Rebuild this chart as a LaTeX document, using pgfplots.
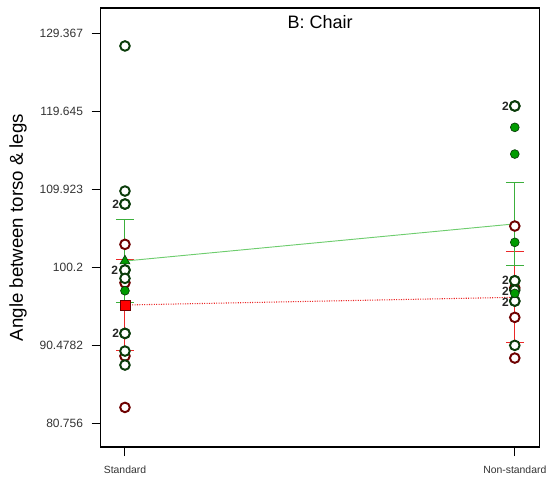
\documentclass[border=0pt]{standalone}
\usepackage{pgfplots}
\pgfplotsset{compat=1.18}
\usepackage{fontspec}
\setmainfont{Liberation Sans}

\definecolor{circG}{RGB}{10,60,10}
\definecolor{circR}{RGB}{110,0,0}
\definecolor{dotG}{RGB}{0,155,0}
\definecolor{barG}{RGB}{60,175,60}
\definecolor{lineG}{RGB}{110,205,110}
\definecolor{barR}{RGB}{235,40,40}

\begin{document}
\begin{tikzpicture}
\path[use as bounding box] (-75.5pt,-26.25pt) rectangle (339.2pt,335.25pt);
\begin{axis}[
  at={(0,0)}, anchor=south west,
  scale only axis,
  width=329.25pt, height=329.25pt,
  xmin=-0.0623, xmax=1.064,
  ymin=77.77, ymax=132.48,
  axis line style={line width=0.9pt},
  tick align=outside,
  xtick pos=bottom, ytick pos=left,
  major tick length=6.75pt,
  tick style={black, line width=0.7pt},
  xtick={0,1}, xticklabels={Standard,Non-standard},
  ytick={80.756,90.4782,100.2,109.923,119.645,129.367},
  yticklabels={80.756,90.4782,100.2,109.923,119.645,129.367},
  yticklabel style={font=\fontsize{9}{10}\selectfont, text=black!80, xshift=-3pt},
  xticklabel style={font=\fontsize{7.8}{9}\selectfont, text=black!80, yshift=-4pt},
  ylabel={Angle between torso \& legs},
  ylabel style={at={(axis description cs:-0.188,0.5)}, anchor=center,
                font=\fontsize{14}{16}\selectfont},
  clip=false,
]
% group means joined across conditions, with error bars
\addplot[barR, densely dotted, line width=0.8pt,
  error bars/.cd, y dir=both, y explicit,
  error bar style={barR, solid, line width=0.8pt},
  error mark options={rotate=90, mark size=6.75pt, barR, solid, line width=0.8pt}]
  coordinates {(0,95.47) +- (0,5.70) (1,96.43) +- (0,5.67)};
\addplot[lineG, line width=0.7pt,
  error bars/.cd, y dir=both, y explicit,
  error bar style={barG, line width=0.8pt},
  error mark options={rotate=90, mark size=6.75pt, barG, line width=0.8pt}]
  coordinates {(0,100.95) +- (0,5.20) (1,105.58) +- (0,5.20)};
% mean markers (Standard condition)
\addplot[only marks, mark=square*, mark size=3.8pt,
  mark options={fill=red, draw=circR, line width=0.5pt}]
  coordinates {(0,95.47)};
\addplot[only marks, mark=triangle*, mark size=4.3pt,
  mark options={fill=dotG, draw=circG, line width=0.5pt}]
  coordinates {(0,100.95)};
% individual observations
\addplot[only marks, mark=*, mark size=3.6pt,
  mark options={draw=circR, fill=white, line width=1.45pt}]
  coordinates {(0,103.03) (0,98.24) (0,89.11) (0,82.71)
               (1,105.31) (1,97.6) (1,93.93) (1,88.86)};
\addplot[only marks, mark=*, mark size=3.6pt,
  mark options={draw=circG, fill=white, line width=1.45pt}]
  coordinates {(0,127.75) (0,109.67) (0,108.05) (0,108.05) (0,99.83) (0,99.83)
               (0,98.79) (0,91.93) (0,91.93) (0,89.73) (0,87.99)
               (1,120.27) (1,120.27) (1,98.49) (1,98.49) (1,97.33)
               (1,95.96) (1,95.96) (1,90.44)};
\addplot[only marks, mark=*, mark size=3.3pt,
  mark options={draw=circG, fill=dotG, line width=0.5pt}]
  coordinates {(0,97.25) (1,117.61) (1,114.28) (1,103.28) (1,96.92)};
% panel title
\node[font=\fontsize{13.5}{15}\selectfont] at (axis description cs:0.5,0.968) {B: Chair};
% counts of coinciding observations
\begin{scope}[every node/.style={anchor=east, inner sep=0pt,
    font=\bfseries\fontsize{9}{10}\selectfont, text=black!85}]
  \node at ([xshift=-4.2pt]axis cs:0,108.05) {2};
  \node at ([xshift=-5pt]axis cs:0,99.83) {2};
  \node at ([xshift=-4.2pt]axis cs:0,91.93) {2};
  \node at ([xshift=-4.2pt]axis cs:1,120.27) {2};
  \node at ([xshift=-4.2pt]axis cs:1,98.55) {2};
  \node at ([xshift=-4.2pt]axis cs:1,97.15) {2};
  \node at ([xshift=-4.2pt]axis cs:1,95.75) {2};
\end{scope}
\end{axis}
\end{tikzpicture}
\end{document}
